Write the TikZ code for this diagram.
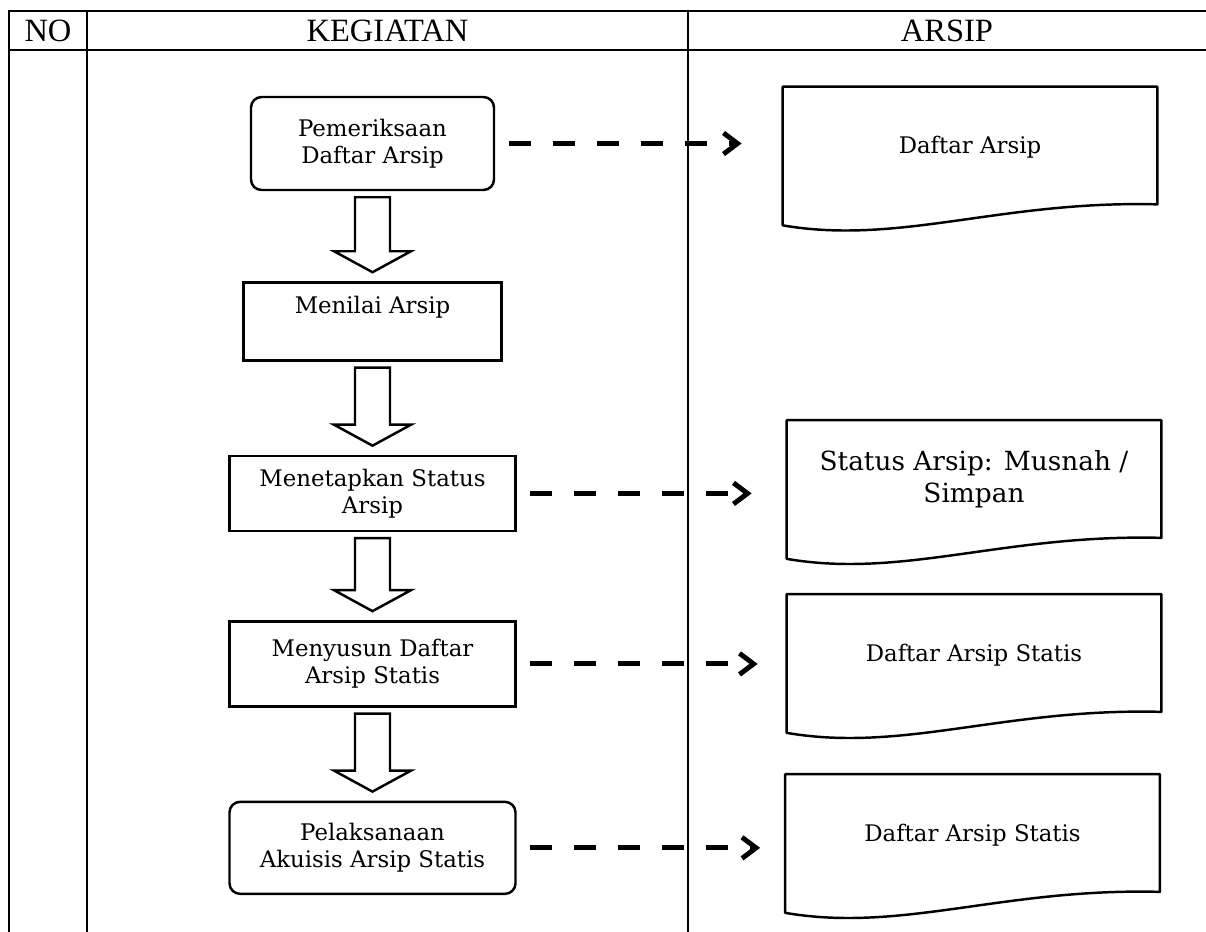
\documentclass[tikz,border=0pt]{standalone}
\usepackage{fontspec}
\setmainfont{DejaVu Serif}
\newfontfamily\headfont{Liberation Serif}
\usetikzlibrary{arrows.meta, positioning, calc}
\tikzset{%
	proc/.style={draw, rectangle, line width=1.4pt, align=center, inner sep=0mm,%
		font=\fontsize{13}{15.6}\selectfont},
	procr/.style={proc, rounded corners=6pt},
	doc/.style={rectangle, minimum width=7.48cm, minimum height=2.76cm, inner sep=0mm,%
		align=center, font=\fontsize{13}{15.6}\selectfont},
	docline/.style={line width=1.4pt, line join=round},
	flow/.style={-{Straight Barb[length=8pt, width=12pt]}, line width=2.8pt,%
		dash pattern=on 0.44cm off 0.44cm},
	blk/.style={draw, line width=1.4pt, line join=miter},
	grid/.style={line width=1.4pt},
	head/.style={font=\headfont\fontsize{18.5}{22}\selectfont}
}

\begin{document}
\begin{tikzpicture}
	\useasboundingbox (0,0) rectangle (24.12,-18.64);
	% table
	\draw[grid] (24.12,-0.22) -- (0.18,-0.22) -- (0.18,-18.64);
	\draw[grid] (0.18,-1.00) -- (24.12,-1.00);
	\draw[grid] (1.74,-0.22) -- (1.74,-18.64);
	\draw[grid] (13.76,-0.22) -- (13.76,-18.64);
	\node[head] (hno) at (0.96,-0.61) {NO};
	\node[head] (hkeg) at (7.75,-0.61) {KEGIATAN};
	\node[head] (harsip) at (18.94,-0.61) {ARSIP};

	% kegiatan
	\node[procr, minimum width=4.86cm, minimum height=1.86cm] (k1) at (7.45,-2.87) {Pemeriksaan\\Daftar Arsip};
	\node[proc, minimum width=5.16cm, minimum height=1.56cm, below=1.8cm of k1] (k2) {Menilai Arsip\\[3pt]~};
	\node[proc, minimum width=5.72cm, minimum height=1.5cm, below=1.86cm of k2] (k3) {Menetapkan Status\\Arsip};
	\node[proc, minimum width=5.72cm, minimum height=1.7cm, below=1.76cm of k3] (k4) {Menyusun Daftar\\Arsip Statis};
	\node[procr, minimum width=5.72cm, minimum height=1.84cm, below=1.86cm of k4] (k5) {Pelaksanaan\\Akuisis Arsip Statis};

	% arsip
	\node[doc] (a1) at (19.40,-3.12) {Daftar Arsip\\[-3pt]~};
	\node[doc, font=\fontsize{15}{18}\selectfont] (a3) at (19.48,-9.79) {Status Arsip: Musnah /\\Simpan\\[-3pt]~};
	\node[doc] (a4) at (19.48,-13.27) {Daftar Arsip Statis\\[-3pt]~};
	\node[doc] (a5) at (19.45,-16.87) {Daftar Arsip Statis\\[-3pt]~};
	\foreach \d in {a1,a3,a4,a5}
		\draw[docline] (\d.north west) -- (\d.north east) -- ([yshift=0.42cm]\d.south east)
			.. controls ([shift={(-3.14,0.5)}]\d.south east) and ([shift={(2.34,-0.4)}]\d.south west) .. (\d.south west) -- cycle;

	% block arrows
	\foreach \a/\b in {k1/k2,k2/k3,k3/k4,k4/k5}{
		\coordinate (top) at ($(\b.north |- \a.south)+(0,-0.12)$);
		\coordinate (tip) at ($(\b.north)+(0,0.18)$);
		\draw[blk] ($(top)+(-0.35,0)$) -- ($(top)+(0.35,0)$) -- ($(tip)+(0.35,0.42)$) -- ($(tip)+(0.77,0.42)$)
			-- (tip) -- ($(tip)+(-0.77,0.42)$) -- ($(tip)+(-0.35,0.42)$) -- cycle;
	}

	% dashed
	\foreach \k/\a/\g in {k1/a1/0.82,k3/a3/0.70,k4/a4/0.58,k5/a5/0.50}
		\draw[flow] ($(\k.east)+(0.27,0)$) -- ($(\k.east -| \a.west)+(-\g,0)$);
\end{tikzpicture}
\end{document}
